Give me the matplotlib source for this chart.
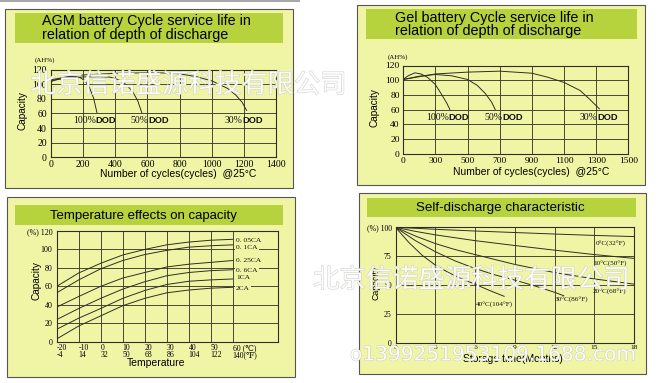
import numpy as np
import matplotlib
matplotlib.use("Agg")
import matplotlib.pyplot as plt
from matplotlib.patches import Rectangle
import matplotlib.patheffects as pe

# ---------------- data ----------------
# AGM battery: cycles vs capacity (AH%)
agm_100_x = [0, 40, 80, 120, 150, 180, 210, 240, 265, 286]
agm_100_y = [103.5, 106.5, 108.8, 110.0, 110.2, 109, 105, 95, 81, 61]
agm_50_x = [0, 100, 200, 300, 370, 420, 470, 510, 540, 565]
agm_50_y = [105, 108, 109.8, 110.2, 109.5, 106, 99, 89, 77, 61]
agm_30_x = [0, 100, 200, 400, 600, 700, 800, 900, 1000, 1100, 1150, 1190, 1217]
agm_30_y = [106, 110, 112.5, 114.8, 115.5, 115.3, 114, 110.5, 104.5, 94, 85, 75, 64]
agm_xticks = [0, 200, 400, 600, 800, 1000, 1200, 1400]

# Gel battery: cycles vs capacity (AH%)
gel_100_x = [0, 45, 108, 165, 225, 300, 340, 370, 390]
gel_100_y = [101, 106, 110, 108.5, 104, 94, 80, 69, 60]
gel_50_x = [0, 150, 300, 400, 500, 560, 610, 650, 672]
gel_50_y = [101, 105.5, 107.8, 106, 101, 93, 82, 70, 60]
gel_30_x = [0, 300, 500, 700, 900, 1000, 1100, 1200, 1260, 1320]
gel_30_y = [101, 108.5, 111, 112.3, 109.5, 104, 97, 86, 74, 61]
gel_xticks = [0, 300, 500, 700, 900, 1100, 1300, 1500]

dod_labels = ["100%", "50%", "30%"]

# Temperature effects on capacity
temp_c = [-20, -10, 0, 10, 20, 30, 40, 50, 60]
temp_f = [-4, 14, 32, 50, 68, 86, 104, 122, 140]
cap_005 = [60, 74.5, 85, 94, 100, 105, 108, 110, 111]
cap_01 = [53, 67, 79, 88, 94.5, 99, 102.5, 104, 105]
cap_025 = [37.5, 49, 60, 69, 75, 81, 84, 86, 88]
cap_06 = [24, 36, 47, 57, 65, 71.5, 75, 77, 78]
cap_1 = [13.5, 25.5, 36, 47, 55.5, 62, 65.5, 67, 68]
cap_2 = [3, 17, 28, 39, 47, 53, 56, 58, 59]
rate_labels = ["0. 05CA", "0. 1CA", "0. 25CA", "0. 6CA", "1CA", "2CA"]
rate_label_y = [110.2, 102.3, 87.8, 77.7, 69.4, 57.9]

# Self-discharge characteristic
sd_0_x = [0, 3, 6, 9, 12, 15, 18]
sd_0_y = [100, 98.3, 96.8, 95.5, 94.2, 93.0, 92.0]
sd_10_x = [0, 1.5, 3, 6, 9, 12, 15, 18]
sd_10_y = [100, 96.5, 93.5, 88.5, 84.3, 80.3, 76.5, 73.2]
sd_20_x = [0, 1.5, 3, 4.5, 6, 9, 12, 15, 18]
sd_20_y = [100, 92.5, 86, 80.8, 76.5, 68, 61, 55.5, 51]
sd_30_x = [0, 1.5, 3, 4.5, 6, 7.5, 9, 10.5, 12, 12.7]
sd_30_y = [100, 88.5, 79, 71, 64.5, 59, 54.5, 49.5, 44, 41]
sd_40_x = [0, 1, 2, 3, 4, 5, 6, 7, 8.2]
sd_40_y = [100, 87, 76, 67.5, 61, 55.5, 51, 46, 40.5]
sd_labels = ["0°C(32°F)", "10°C(50°F)", "20°C(68°F)", "30°C(86°F)", "40°C(104°F)"]
sd_label_x = [15.1, 14.95, 14.9, 12.0, 6.1]
sd_label_y = [85.8, 68.0, 44.3, 37.1, 33.4]

# ---------------- style ----------------
W, H = 661, 383
BG = "#f0f5a6"
BAND = "#b6d23c"
LC = "#2e2e26"
SANS = ["Liberation Sans", "DejaVu Sans"]
SERIF = ["Liberation Serif", "DejaVu Serif", "DejaVu Sans"]
CJK = ["Noto Sans CJK SC", "DejaVu Sans"]

fig = plt.figure(figsize=(W / 100, H / 100), dpi=100)
fig.patch.set_facecolor("white")


def frect(x0, y0, x1, y1):
    return [x0 / W, 1 - y1 / H, (x1 - x0) / W, (y1 - y0) / H]


def box(x0, y0, x1, y1, **kw):
    r = Rectangle((x0 / W, 1 - y1 / H), (x1 - x0) / W, (y1 - y0) / H,
                  transform=fig.transFigure, zorder=-10, **kw)
    fig.add_artist(r)


def ftext(x, y, s, **kw):
    return fig.text(x / W, 1 - y / H, s, **kw)


def setup(ax, xpad, ypad):
    ax.set_facecolor("none")
    ax.grid(True, color=LC, lw=0.6)
    ax.set_axisbelow(True)
    ax.tick_params(length=0)
    ax.tick_params(axis="x", pad=xpad)
    ax.tick_params(axis="y", pad=ypad)
    for s in ax.spines.values():
        s.set_color(LC)
        s.set_linewidth(0.8)


def dod_label(ax, x, y, pct, fs=7):
    t = ax.text(x, y, pct, family=SERIF, fontsize=fs, color="#111",
                ha="left", va="baseline")
    ax.annotate("DOD", xy=(1, 0), xycoords=t, family=SANS, fontsize=fs - 0.3,
                fontweight="bold", color="#111", ha="left", va="bottom")


# top gray strip
box(0, 0, 300, 1.5, facecolor="#a8a8a8", edgecolor="none")

# ---------------- panel 1: AGM ----------------
box(5, 9.3, 293, 188, facecolor=BG, edgecolor="#555555", lw=0.8)
box(15, 12.7, 283, 43.3, facecolor=BAND, edgecolor="none")
ftext(41.7, 25.2, "AGM battery Cycle service life in", family=SANS, fontsize=10.4, va="baseline")
ftext(41.7, 38.5, "relation of depth of discharge", family=SANS, fontsize=10.4, va="baseline")
ax1 = fig.add_axes(frect(51, 69.5, 276, 157.3))
setup(ax1, 2, 3)
for xs, ys in [(agm_100_x, agm_100_y), (agm_50_x, agm_50_y), (agm_30_x, agm_30_y)]:
    ax1.plot(xs, ys, color=LC, lw=0.7)
ax1.set_xlim(0, 1400)
ax1.set_ylim(0, 120)
ax1.set_xticks(agm_xticks)
ax1.set_xticklabels([str(v) for v in agm_xticks], family=SERIF, fontsize=7)
ax1.set_yticks(range(0, 121, 20))
ax1.set_yticklabels([str(v) for v in range(0, 121, 20)], family=SERIF, fontsize=7)
for x, lab in zip([135, 492, 1079], dod_labels):
    dod_label(ax1, x, 47, lab)
ftext(45, 60.3, "(AH%)", family=SERIF, fontsize=5, ha="center", va="center")
ftext(22.5, 110.8, "Capacity", family=SANS, fontsize=7.2, rotation=90, ha="center", va="center")
ftext(100, 177, "Number of cycles(cycles)  @25°C", family=SANS, fontsize=7.5, va="baseline")

# ---------------- panel 2: Gel ----------------
box(356.7, 5, 645, 185, facecolor=BG, edgecolor="#555555", lw=0.8)
box(366, 9.3, 636.7, 39.3, facecolor=BAND, edgecolor="none")
ftext(395, 21.7, "Gel battery Cycle service life in", family=SANS, fontsize=10.4, va="baseline")
ftext(395, 35.2, "relation of depth of discharge", family=SANS, fontsize=10.4, va="baseline")
ax2 = fig.add_axes(frect(403.3, 65.5, 628.3, 153.7))
setup(ax2, 2.2, 2.5)


def gel_fwd(x):
    x = np.asarray(x, dtype=float)
    return np.where(x <= 300, x / 300.0, 1 + (x - 300) / 200.0)


def gel_inv(p):
    p = np.asarray(p, dtype=float)
    return np.where(p <= 1, p * 300.0, 300 + (p - 1) * 200.0)


ax2.set_xscale("function", functions=(gel_fwd, gel_inv))
for xs, ys in [(gel_100_x, gel_100_y), (gel_50_x, gel_50_y), (gel_30_x, gel_30_y)]:
    ax2.plot(xs, ys, color=LC, lw=0.7)
ax2.set_xlim(0, 1500)
ax2.set_ylim(0, 120)
ax2.set_xticks(gel_xticks)
ax2.set_xticklabels([str(v) for v in gel_xticks], family=SERIF, fontsize=6.8)
ax2.xaxis.set_minor_locator(matplotlib.ticker.NullLocator())
ax2.set_yticks(range(0, 121, 20))
ax2.set_yticklabels([str(v) for v in range(0, 121, 20)], family=SERIF, fontsize=6.8)
for x, lab in zip([209, 604, 1196], dod_labels):
    dod_label(ax2, x, 46, lab)
ftext(397.5, 56.7, "(AH%)", family=SERIF, fontsize=5, ha="center", va="center")
ftext(375, 107.5, "Capacity", family=SANS, fontsize=7.2, rotation=90, ha="center", va="center")
ftext(453.3, 175, "Number of cycles(cycles)  @25°C", family=SANS, fontsize=7.5, va="baseline")

# ---------------- panel 3: Temperature ----------------
box(6.7, 197.3, 295, 376.7, facecolor=BG, edgecolor="#555555", lw=0.8)
box(15, 205, 282.7, 225, facecolor=BAND, edgecolor="none")
ftext(50, 219.3, "Temperature effects on capacity", family=SANS, fontsize=9.5, va="baseline")
ax3 = fig.add_axes(frect(56.7, 231, 278.3, 341.7))
setup(ax3, 1.5, 3)
for ys in [cap_005, cap_01, cap_025, cap_06, cap_1, cap_2]:
    ax3.plot(temp_c, ys, color=LC, lw=0.7)
ax3.set_xlim(-20, 80.7)
ax3.set_ylim(0, 120)
ax3.set_xticks(temp_c)
xl = []
for c, f in zip(temp_c, temp_f):
    if c == temp_c[-1]:
        xl.append(f"{c} (℃)\n{f}(℉)")
    else:
        xl.append(f"{c}\n{f}")
ax3.set_xticklabels(xl, family=SERIF, fontsize=5.6, linespacing=0.95, ha="left")
ax3.set_yticks(range(0, 121, 20))
yl = [str(v) for v in range(0, 121, 20)]
yl[-1] = "(%) 120"
ax3.set_yticklabels(yl, family=SERIF, fontsize=5.8)
for lab, y in zip(rate_labels, rate_label_y):
    ax3.text(61.5, y, lab, family=SERIF, fontsize=5.4, color="#111", ha="left", va="center",
             bbox=dict(facecolor=BG, edgecolor="none", pad=0.8))
ftext(36.7, 280.8, "Capacity", family=SANS, fontsize=7.2, rotation=90, ha="center", va="center")
ftext(156, 366, "Temperature", family=SANS, fontsize=7.5, ha="center", va="baseline")

# ---------------- panel 4: Self-discharge ----------------
box(359.3, 193.3, 646, 374, facecolor=BG, edgecolor="#555555", lw=0.8)
box(367.3, 198.3, 636, 217.3, facecolor=BAND, edgecolor="none")
ftext(416, 210.7, "Self-discharge characteristic", family=SANS, fontsize=9.6, va="baseline")
ax4 = fig.add_axes(frect(395.5, 227.3, 634, 343.3))
setup(ax4, 1, 2.7)
for xs, ys in [(sd_0_x, sd_0_y), (sd_10_x, sd_10_y), (sd_20_x, sd_20_y),
               (sd_30_x, sd_30_y), (sd_40_x, sd_40_y)]:
    ax4.plot(xs, ys, color=LC, lw=0.7)
ax4.set_xlim(0, 18)
ax4.set_ylim(0, 100)
ax4.set_xticks(range(0, 19, 3))
ax4.set_xticklabels([str(v) for v in range(0, 19, 3)], family=SERIF, fontsize=5.3)
ax4.set_yticks([0, 25, 50, 75, 100])
ax4.set_yticklabels(["0", "25", "50", "75", "(%) 100"], family=SERIF, fontsize=5.6)
for lab, x, y in zip(sd_labels, sd_label_x, sd_label_y):
    ax4.text(x, y, lab, family=SERIF, fontsize=5.2, color="#111", ha="left", va="center")
ftext(375.8, 283.3, "Capacity", family=SANS, fontsize=6.3, rotation=90, ha="center", va="center")
ftext(513.3, 361.7, "Storage time(Months)", family=SANS, fontsize=7.5, ha="center", va="baseline")

# ---------------- watermarks ----------------
wm_fx = [pe.withStroke(linewidth=0.7, foreground="#c4c4c0")]
ftext(30, 85, "北京信诺盛源科技有限公司", family=CJK, fontsize=19, color="#ffffff",
      alpha=0.8, va="center", ha="left", path_effects=wm_fx, zorder=20)
ftext(313, 280, "北京信诺盛源科技有限公司", family=CJK, fontsize=19, color="#ffffff",
      alpha=0.8, va="center", ha="left", path_effects=wm_fx, zorder=20)
ftext(350, 355, "o1399251953109.1688.com", family=["DejaVu Sans"], fontsize=14.5,
      color="#ffffff", alpha=0.8, va="center", ha="left", path_effects=wm_fx, zorder=20)

fig.savefig("out.png", dpi=100, facecolor="white")
